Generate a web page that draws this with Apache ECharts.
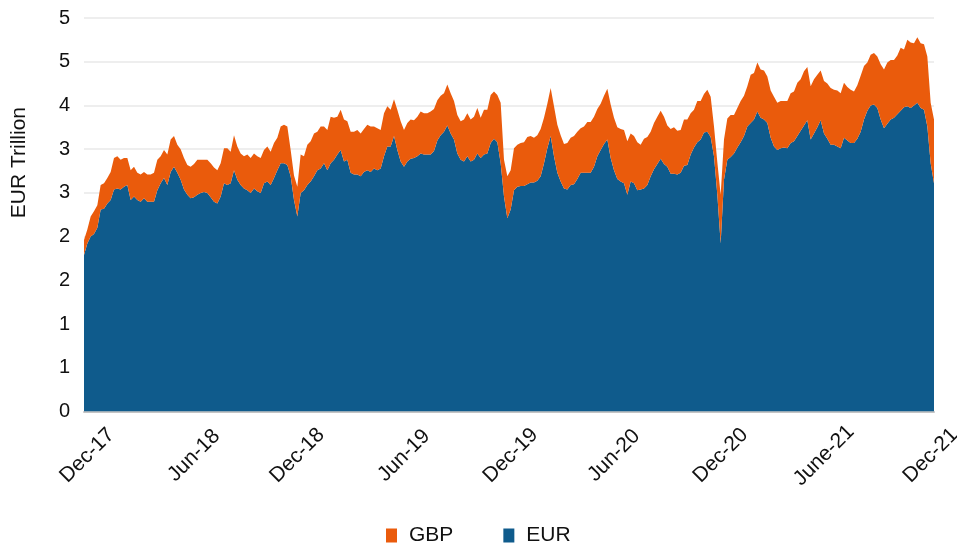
<!DOCTYPE html>
<html>
    <head>
        <meta charset="utf-8">
        <title>EUR Trillion</title>
        <script src="https://cdn.jsdelivr.net/npm/echarts@6/dist/echarts.min.js"></script>
        <style>
            html, body { margin: 0; padding: 0; background: #fff; }
            #chart1 { width: 957px; height: 545px; }
        </style>
    </head>
    <body>
        <div id="chart1"></div>
    </body>

    <script type="text/javascript">
        // stacked total (EUR + GBP)
        var totalValues = [
            1.96, 2.08, 2.23, 2.29, 2.36, 2.59, 2.61, 2.67, 2.74, 2.90,
            2.92, 2.88, 2.90, 2.90, 2.76, 2.80, 2.73, 2.71, 2.74, 2.71,
            2.71, 2.73, 2.88, 2.92, 2.99, 2.94, 3.11, 3.15, 3.05, 3.00,
            2.90, 2.82, 2.80, 2.83, 2.88, 2.88, 2.88, 2.88, 2.84, 2.79,
            2.76, 2.84, 3.01, 3.01, 2.97, 3.16, 3.03, 2.95, 2.92, 2.94,
            2.90, 2.95, 2.92, 2.90, 2.99, 3.03, 2.97, 3.07, 3.13, 3.26,
            3.28, 3.26, 2.99, 2.70, 2.57, 2.94, 2.92, 3.05, 3.09, 3.18,
            3.20, 3.26, 3.26, 3.22, 3.37, 3.36, 3.37, 3.45, 3.34, 3.32,
            3.20, 3.20, 3.22, 3.18, 3.23, 3.28, 3.26, 3.26, 3.24, 3.22,
            3.41, 3.49, 3.45, 3.57, 3.45, 3.32, 3.22, 3.30, 3.34, 3.33,
            3.37, 3.43, 3.41, 3.41, 3.43, 3.46, 3.56, 3.61, 3.64, 3.74,
            3.64, 3.55, 3.39, 3.32, 3.34, 3.41, 3.34, 3.37, 3.47, 3.36,
            3.45, 3.45, 3.62, 3.66, 3.62, 3.53, 2.88, 2.69, 2.76, 3.01,
            3.05, 3.07, 3.08, 3.14, 3.15, 3.13, 3.16, 3.23, 3.36, 3.52,
            3.70, 3.49, 3.28, 3.16, 3.06, 3.07, 3.13, 3.15, 3.20, 3.24,
            3.26, 3.31, 3.31, 3.37, 3.46, 3.52, 3.61, 3.69, 3.51, 3.36,
            3.25, 3.23, 3.22, 3.09, 3.18, 3.15, 3.08, 3.05, 3.12, 3.14,
            3.20, 3.30, 3.37, 3.44, 3.37, 3.27, 3.23, 3.25, 3.21, 3.22,
            3.34, 3.34, 3.41, 3.45, 3.55, 3.55, 3.63, 3.68, 3.60, 3.26,
            2.85, 2.48, 3.11, 3.35, 3.39, 3.39, 3.47, 3.55, 3.61, 3.72,
            3.85, 3.87, 3.99, 3.91, 3.90, 3.83, 3.67, 3.60, 3.53, 3.55,
            3.55, 3.55, 3.64, 3.66, 3.76, 3.80, 3.89, 3.94, 3.72, 3.80,
            3.85, 3.90, 3.78, 3.75, 3.70, 3.68, 3.67, 3.64, 3.76, 3.71,
            3.68, 3.66, 3.73, 3.84, 3.95, 3.99, 4.08, 4.10, 4.06, 3.97,
            3.91, 3.99, 4.02, 4.02, 4.07, 4.16, 4.14, 4.25, 4.22, 4.21,
            4.28, 4.21, 4.20, 4.06, 3.53, 3.34
        ];
        var eurValues = [
            1.79, 1.92, 2.00, 2.03, 2.10, 2.31, 2.32, 2.38, 2.42, 2.54,
            2.55, 2.54, 2.57, 2.59, 2.42, 2.46, 2.42, 2.40, 2.44, 2.40,
            2.40, 2.40, 2.53, 2.61, 2.67, 2.59, 2.74, 2.80, 2.73, 2.65,
            2.54, 2.48, 2.44, 2.45, 2.48, 2.50, 2.51, 2.50, 2.45, 2.40,
            2.38, 2.46, 2.61, 2.59, 2.61, 2.76, 2.65, 2.59, 2.55, 2.53,
            2.50, 2.55, 2.52, 2.50, 2.61, 2.63, 2.59, 2.67, 2.76, 2.84,
            2.84, 2.82, 2.69, 2.42, 2.23, 2.50, 2.53, 2.59, 2.63, 2.69,
            2.76, 2.78, 2.84, 2.76, 2.84, 2.88, 2.94, 2.99, 2.86, 2.88,
            2.73, 2.71, 2.71, 2.69, 2.74, 2.76, 2.74, 2.78, 2.76, 2.78,
            2.92, 3.03, 3.03, 3.15, 2.99, 2.86, 2.80, 2.86, 2.89, 2.90,
            2.92, 2.95, 2.94, 2.94, 2.94, 2.98, 3.10, 3.16, 3.20, 3.27,
            3.18, 3.11, 2.95, 2.88, 2.86, 2.92, 2.86, 2.88, 2.95, 2.90,
            2.94, 2.95, 3.07, 3.12, 3.08, 2.84, 2.46, 2.21, 2.31, 2.53,
            2.57, 2.58, 2.58, 2.60, 2.62, 2.62, 2.64, 2.69, 2.84, 3.01,
            3.15, 2.92, 2.73, 2.63, 2.55, 2.54, 2.59, 2.60, 2.66, 2.73,
            2.73, 2.73, 2.73, 2.80, 2.92, 2.99, 3.06, 3.11, 2.90, 2.76,
            2.66, 2.63, 2.61, 2.48, 2.63, 2.61, 2.53, 2.54, 2.55, 2.59,
            2.69, 2.77, 2.83, 2.89, 2.83, 2.80, 2.72, 2.72, 2.71, 2.73,
            2.81, 2.82, 2.94, 3.02, 3.08, 3.11, 3.19, 3.20, 3.14, 2.92,
            2.48, 1.92, 2.65, 2.88, 2.91, 2.95, 3.02, 3.08, 3.15, 3.26,
            3.30, 3.34, 3.43, 3.36, 3.34, 3.30, 3.13, 3.03, 2.99, 3.01,
            3.02, 3.01, 3.07, 3.09, 3.15, 3.21, 3.27, 3.33, 3.11, 3.18,
            3.25, 3.33, 3.18, 3.12, 3.05, 3.05, 3.03, 3.01, 3.13, 3.10,
            3.07, 3.07, 3.12, 3.20, 3.34, 3.44, 3.50, 3.51, 3.47, 3.34,
            3.24, 3.29, 3.34, 3.36, 3.40, 3.44, 3.48, 3.49, 3.47, 3.50,
            3.53, 3.47, 3.45, 3.26, 2.84, 2.61
        ];

        // x tick labels and where they sit in the series
        var xTickLabels = ['Dec-17', 'Jun-18', 'Dec-18', 'Jun-19', 'Dec-19', 'Jun-20', 'Dec-20', 'June-21', 'Dec-21'];
        var xTickIndex = [1, 33, 64, 96, 128, 159, 191, 222, 254];
        // y tick labels, one per grid line (0, 0.5, ... 4.5)
        var yTickLabels = ['0', '1', '1', '2', '2', '3', '3', '4', '5', '5'];

        var gbpValues = totalValues.map(function (t, i) {
            return +(t - eurValues[i]).toFixed(2);
        });
        var categories = totalValues.map(function (t, i) {
            var k = xTickIndex.indexOf(i);
            return k >= 0 ? xTickLabels[k] : '';
        });

        var fontFamily = '"Liberation Sans", Arial, Helvetica, sans-serif';
        var myChart1 = echarts.init(document.getElementById('chart1'));

        myChart1.setOption({
            animation: false,
            textStyle: { fontFamily: fontFamily },
            grid: { left: 84, right: 23, top: 18, bottom: 133.5, outerBoundsMode: 'none', containLabel: false },
            legend: {
                data: ['GBP', 'EUR'],
                top: 520,
                left: 381,
                icon: 'rect',
                itemWidth: 11,
                itemHeight: 14,
                itemGap: 50,
                textStyle: { fontSize: 21, color: '#111', fontFamily: fontFamily, padding: [0, 0, 0, 7] }
            },
            graphic: [{
                type: 'text',
                left: 9,
                top: 107,
                rotation: Math.PI / 2,
                style: {
                    text: 'EUR Trillion',
                    fontSize: 21,
                    fill: '#111',
                    fontFamily: fontFamily
                }
            }],
            xAxis: {
                type: 'category',
                data: categories,
                boundaryGap: false,
                axisTick: { show: false },
                axisLine: { lineStyle: { color: '#C4C4C4', width: 2 } },
                axisLabel: {
                    interval: 0,
                    rotate: 45,
                    align: 'center',
                    verticalAlign: 'middle',
                    margin: 44,
                    fontSize: 21,
                    color: '#111'
                }
            },
            yAxis: {
                type: 'value',
                min: 0,
                max: 4.5,
                interval: 0.5,
                axisLine: { show: false },
                axisTick: { show: false },
                splitLine: { lineStyle: { color: '#EEEEEE', width: 2 } },
                axisLabel: {
                    margin: 14,
                    fontSize: 20,
                    color: '#111',
                    formatter: function (v) {
                        return yTickLabels[Math.round(v / 0.5)];
                    }
                }
            },
            series: [{
                name: 'EUR',
                type: 'line',
                stack: 'total',
                data: eurValues,
                showSymbol: false,
                itemStyle: { color: '#0F5B8C' },
                lineStyle: { width: 0 },
                areaStyle: { color: '#0F5B8C', opacity: 1 }
            }, {
                name: 'GBP',
                type: 'line',
                stack: 'total',
                data: gbpValues,
                showSymbol: false,
                itemStyle: { color: '#EA5B0C' },
                lineStyle: { width: 0 },
                areaStyle: { color: '#EA5B0C', opacity: 1 }
            }]
        });
    </script>

</html>
